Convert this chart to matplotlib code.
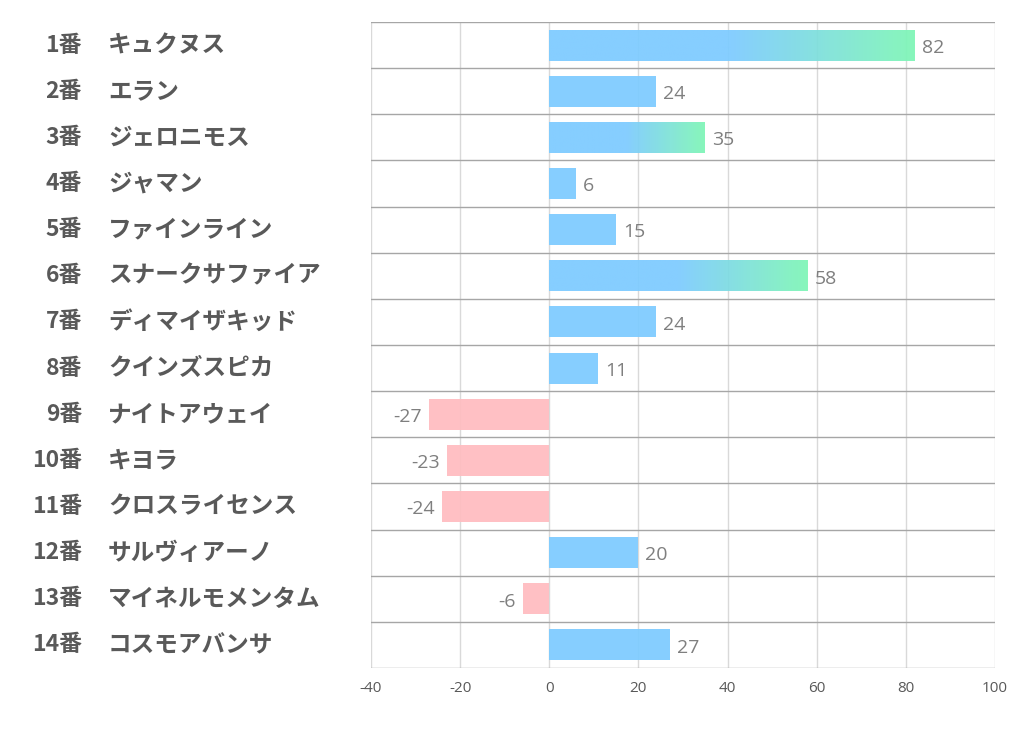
import numpy as np
import matplotlib.pyplot as plt

nums = ["1番", "2番", "3番", "4番", "5番", "6番", "7番", "8番", "9番", "10番",
        "11番", "12番", "13番", "14番"]
names = ["キュクヌス", "エラン", "ジェロニモス", "ジャマン", "ファインライン",
         "スナークサファイア", "ディマイザキッド", "クインズスピカ", "ナイトアウェイ",
         "キヨラ", "クロスライセンス", "サルヴィアーノ", "マイネルモメンタム", "コスモアバンサ"]
values = [82, 24, 35, 6, 15, 58, 24, 11, -27, -23, -24, 20, -6, 27]
xticks = [-40, -20, 0, 20, 40, 60, 80, 100]

blue = np.array([0x7d, 0xcb, 0xff]) / 255
green = np.array([0x7f, 0xf6, 0xb6]) / 255
pink = "#ffbcc0"
bar_h = 0.67

# top 3 get the gradient
top3 = sorted(range(len(values)), key=lambda i: values[i], reverse=True)[:3]

fig = plt.figure(figsize=(10.22, 7.30), dpi=100)
ax = fig.add_axes([371 / 1022, 1 - 668 / 730, (995 - 371) / 1022, (668 - 22) / 730])

n = len(values)

for x in xticks:
    ax.axvline(x, color="#d9d9d9", lw=1, zorder=0)
for k in range(n + 1):
    ax.axhline(k - 0.5, color="#a6a6a6", lw=1, zorder=0.5)

for i, v in enumerate(values):
    if v < 0:
        ax.barh(i, v, height=bar_h, color=pink, alpha=0.93, zorder=2)
    elif i in top3:
        t = np.linspace(0, 1, 200)
        w = np.clip((t - 0.5) / 0.5, 0, 1)
        rgb = blue[None, :] * (1 - w[:, None]) + green[None, :] * w[:, None]
        img = np.concatenate([rgb, np.full((200, 1), 0.93)], axis=1)[None, :, :]
        ax.imshow(img, extent=[0, v, i + bar_h / 2, i - bar_h / 2],
                  aspect="auto", zorder=2, interpolation="bilinear")
    else:
        ax.barh(i, v, height=bar_h, color=blue, alpha=0.93, zorder=2)

    if v >= 0:
        ax.annotate(str(v), (v, i), xytext=(5, -2), textcoords="offset points",
                    ha="left", va="center", fontsize=14, color="#7f7f7f",
                    family="Open Sans")
    else:
        ax.annotate(str(v), (v, i), xytext=(-5, -2), textcoords="offset points",
                    ha="right", va="center", fontsize=14, color="#7f7f7f",
                    family="Open Sans")

ax.set_xlim(-40, 100)
ax.set_ylim(n - 0.5, -0.5)
ax.set_xticks(xticks)
ax.set_xticklabels([str(x) for x in xticks], fontsize=11, color="#595959",
                   family="Open Sans")
ax.tick_params(axis="x", length=0, pad=9)
ax.set_yticks([])
for s in ax.spines.values():
    s.set_visible(False)

# row labels
for i in range(n):
    ax.text((82 - 371) / 624, i, nums[i], transform=ax.get_yaxis_transform(),
            ha="right", va="center", fontsize=16.5, fontweight="bold",
            color="#595959", family=["Noto Sans CJK JP", "DejaVu Sans"])
    ax.text((108 - 371) / 624, i, names[i], transform=ax.get_yaxis_transform(),
            ha="left", va="center", fontsize=17, fontweight="bold",
            color="#595959", family=["Noto Sans CJK JP", "DejaVu Sans"])

fig.savefig("out.png", dpi=100)
